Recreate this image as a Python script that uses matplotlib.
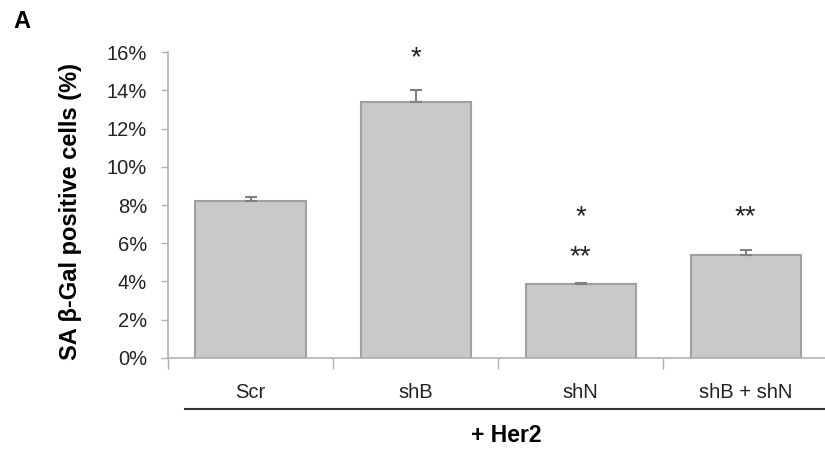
import matplotlib
matplotlib.use("Agg")
import matplotlib.pyplot as plt
import numpy as np

plt.rcParams['font.family'] = ['Liberation Sans', 'DejaVu Sans']

# data
groups = ["Scr", "shB", "shN", "shB + shN"]
values = [8.2, 13.4, 3.85, 5.38]
errors = [0.2, 0.6, 0.08, 0.27]
stars_top = ["", "*", "*", "**"]
stars_low = ["", "", "**", ""]
star_top_y = [0, 15.3, 6.98, 6.98]
star_low_y = [0, 0, 4.9, 0]
yticks = [0, 2, 4, 6, 8, 10, 12, 14, 16]

fig = plt.figure(figsize=(8.25, 4.55), dpi=100)
ax = fig.add_axes([0.2036, 0.2132, 0.7964, 0.6725])

x = np.arange(len(groups))
ax.bar(x, values, width=0.667, color="#c9c9c9", edgecolor="#a0a0a0", linewidth=1.5, zorder=2)
ax.errorbar(x, values, yerr=[np.zeros(len(errors)), errors], fmt="none",
            ecolor="#808080", elinewidth=1.5, capsize=4, capthick=1.5, zorder=3)

for xi, s, yy in zip(x, stars_top, star_top_y):
    if s:
        ax.text(xi, yy, s, ha="center", va="baseline", fontsize=20, color="#222222")
for xi, s, yy in zip(x, stars_low, star_low_y):
    if s:
        ax.text(xi, yy, s, ha="center", va="baseline", fontsize=20, color="#222222")

ax.set_xlim(-0.5, 3.48)
ax.set_ylim(0, 16)
ax.set_yticks(yticks)
ax.set_yticklabels([f"{t}%" for t in yticks], fontsize=14.5, color="#222222")
ax.set_xticks(x)
ax.set_xticklabels(groups, fontsize=14.5, color="#222222")
ax.tick_params(axis="x", which="major", length=0, pad=18)
ax.set_xticks(np.arange(-0.5, 3.5, 1), minor=True)
ax.tick_params(axis="x", which="minor", length=8, width=1, color="#b0b0b0", direction="out")
ax.tick_params(axis="y", length=5, width=1, color="#b0b0b0", direction="out", pad=10)

for side in ["top", "right"]:
    ax.spines[side].set_visible(False)
for side in ["left", "bottom"]:
    ax.spines[side].set_color("#b0b0b0")
    ax.spines[side].set_linewidth(1.2)

ax.set_ylabel("SA β-Gal positive cells (%)", fontsize=17, fontweight="bold")
ax.yaxis.set_label_coords(-0.131, 0.48)

# group bracket under labels
fig.add_artist(plt.Line2D([185 / 825, 1.0], [1 - 409 / 455, 1 - 409 / 455],
                          color="#333333", linewidth=1.5))
fig.text(506 / 825, 1 - 436 / 455, "+ Her2", ha="center", va="center",
         fontsize=16.5, fontweight="bold")
fig.text(22 / 825, 1 - 21 / 455, "A", ha="center", va="center", fontsize=17, fontweight="bold")

fig.savefig("out.png", dpi=100)
